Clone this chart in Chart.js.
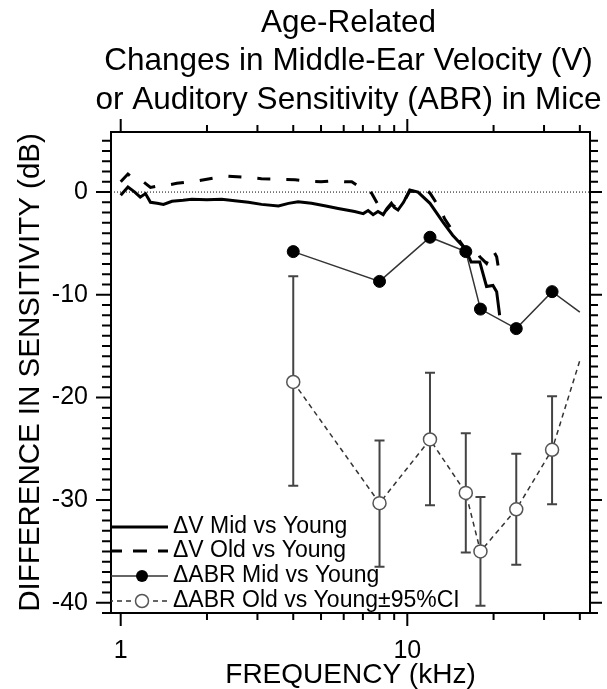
<!DOCTYPE html>
<html>
<head>
<meta charset="utf-8">
<script src="https://cdn.jsdelivr.net/npm/chart.js@4.4.1/dist/chart.umd.min.js"></script>
<style>
body { margin: 0; background: #fff; }
#MyChart { display: block; }
</style>
</head>
<body>
<canvas id="MyChart" width="607" height="689"></canvas>
<script>
const titleLines = ["Age-Related", "Changes in Middle-Ear Velocity (V)", "or Auditory Sensitivity (ABR) in Mice"];
const xTitle = "FREQUENCY (kHz)";
const yTitle = "DIFFERENCE IN SENSITIVITY (dB)";

// middle-ear velocity difference curves (kHz, dB)
const vMidFreq = [1.0, 1.06, 1.12, 1.17, 1.22, 1.27, 1.34, 1.41, 1.51, 1.65, 1.77, 2.0, 2.25, 2.5, 2.79, 3.1, 3.55, 3.85, 4.16, 4.63, 5.2, 5.74, 6.55, 7.02, 7.3, 7.6, 7.9, 8.24, 8.5, 8.8, 9.0, 9.28, 9.7, 10.2, 10.9, 12.0, 13.3, 14.4, 15.9, 16.7, 17.9, 18.9, 19.9, 20.5, 21.0];
const vMidDb = [-0.3, 0.5, 0.0, -0.5, -0.15, -1.0, -1.1, -1.2, -0.9, -0.8, -0.7, -0.75, -0.7, -0.85, -1.0, -1.2, -1.35, -1.1, -0.95, -1.1, -1.35, -1.6, -1.9, -2.1, -1.8, -2.2, -1.9, -2.2, -1.6, -1.1, -1.5, -1.75, -1.0, 0.2, 0.0, -1.1, -2.9, -4.2, -5.5, -6.8, -6.8, -9.2, -9.1, -9.7, -12.0];
const vOldFreq = [1.0, 1.06, 1.11, 1.2, 1.27, 1.35, 1.47, 1.57, 1.87, 2.1, 2.37, 2.7, 3.1, 3.5, 4.06, 4.5, 5.0, 5.6, 6.1, 6.4, 6.65, 7.2, 7.5, 7.8, 8.24, 8.8, 9.28, 9.7, 10.2, 10.9, 11.5, 12.0, 13.0, 13.5, 14.4, 15.9, 17.4, 17.9, 18.9, 19.9, 20.5, 21.0];
const vOldDb = [1.0, 1.75, 1.3, 1.0, 0.45, 0.6, 0.7, 0.85, 1.1, 1.35, 1.55, 1.45, 1.3, 1.25, 1.2, 1.05, 1.0, 1.1, 1.0, 1.0, 0.7, 0.3, -0.1, -0.95, -2.1, -1.2, -1.6, -1.0, 0.1, 0.0, 0.35, -0.1, -1.6, -2.6, -3.8, -5.5, -5.5, -6.3, -6.95, -5.65, -6.3, -8.1];

// ABR threshold differences (kHz, dB) with 95% CI for old vs young
const abrFreq = [4, 8, 12, 16, 18, 24, 32, 40];
const abrMidDb = [-5.8, -8.7, -4.4, -5.8, -11.4, -13.3, -9.7, -11.7];
const abrOldDb = [-18.5, -30.3, -24.1, -29.3, -35.0, -30.9, -25.1, -16.4];
const abrOldHi = [-8.2, -24.2, -17.6, -23.5, -29.7, -25.5, -19.9, null];
const abrOldLo = [-28.6, -36.5, -30.5, -35.1, -40.3, -36.3, -30.4, null];

const legendLabels = ["ΔV Mid vs Young", "ΔV Old vs Young", "ΔABR Mid vs Young", "ΔABR Old vs Young±95%CI"];
const xTickLabels = [1, 10];
const xMinorTicks = [2, 3, 4, 5, 6, 7, 8, 9, 20, 30, 40];
const yTickLabels = [0, -10, -20, -30, -40];
const xRange = [0.925, 43.4];
const yRange = [-41.0, 5.85];

const FONT = "'Liberation Sans', Arial, Helvetica, sans-serif";
const pts = (xs, ys) => xs.map((v, i) => ({x: v, y: ys[i]}));

// title centred over the plot, allowed to run past its edges
const plotTitle = {
    id: "plotTitle",
    afterDraw(chart) {
        const {ctx, chartArea: a} = chart;
        ctx.save();
        ctx.fillStyle = "#000";
        ctx.font = "31.5px " + FONT;
        ctx.textAlign = "center";
        ctx.textBaseline = "middle";
        titleLines.forEach((t, i) => ctx.fillText(t, (a.left + a.right) / 2 - 2, 23 + i * 38.5));
        ctx.restore();
    }
};

const errorBars = {
    id: "errorBars",
    beforeDatasetsDraw(chart) {
        const {ctx, scales: {x, y}} = chart;
        ctx.save();
        ctx.strokeStyle = "#444";
        ctx.lineWidth = 2;
        ctx.beginPath();
        abrFreq.forEach((f, i) => {
            if (abrOldHi[i] === null) return;
            const px = x.getPixelForValue(f);
            const top = y.getPixelForValue(abrOldHi[i]);
            const bot = y.getPixelForValue(abrOldLo[i]);
            ctx.moveTo(px, top); ctx.lineTo(px, bot);
            ctx.moveTo(px - 5, top); ctx.lineTo(px + 5, top);
            ctx.moveTo(px - 5, bot); ctx.lineTo(px + 5, bot);
        });
        ctx.stroke();
        ctx.restore();
    }
};

const frameTicks = {
    id: "frameTicks",
    afterDatasetsDraw(chart) {
        const {ctx, chartArea: a, scales: {x, y}} = chart;
        ctx.save();
        ctx.strokeStyle = "#000";
        ctx.lineWidth = 2;
        ctx.strokeRect(a.left, a.top, a.right - a.left, a.bottom - a.top);
        ctx.beginPath();
        xTickLabels.concat(xMinorTicks).forEach(v => {
            const px = x.getPixelForValue(v);
            const len = xTickLabels.includes(v) ? 13 : 7;
            ctx.moveTo(px, a.bottom); ctx.lineTo(px, a.bottom + len);
            ctx.moveTo(px, a.top); ctx.lineTo(px, a.top - len);
        });
        for (let v = Math.ceil(y.min); v <= y.max; v++) {
            const py = y.getPixelForValue(v);
            const major = v % 10 === 0;
            ctx.moveTo(a.left - (major ? 15 : 9), py); ctx.lineTo(a.left, py);
            ctx.moveTo(a.right, py); ctx.lineTo(a.right + (major ? 12 : 8), py);
        }
        ctx.stroke();
        ctx.restore();
    }
};

const sideLegend = {
    id: "sideLegend",
    afterDraw(chart) {
        const {ctx, chartArea: a} = chart;
        const x0 = a.left, x1 = 168, mx = 142, tx = 173;
        const rows = [527, 551, 576, 601];
        ctx.save();
        ctx.strokeStyle = "#000";
        // solid
        ctx.lineWidth = 3;
        ctx.beginPath(); ctx.moveTo(x0, rows[0]); ctx.lineTo(x1, rows[0]); ctx.stroke();
        // long dash
        ctx.setLineDash([14, 11]);
        ctx.lineDashOffset = 3;
        ctx.beginPath(); ctx.moveTo(x0, rows[1]); ctx.lineTo(x1, rows[1]); ctx.stroke();
        // abr mid
        ctx.setLineDash([]);
        ctx.lineWidth = 1.5;
        ctx.strokeStyle = "#333";
        ctx.beginPath(); ctx.moveTo(x0, rows[2]); ctx.lineTo(x1, rows[2]); ctx.stroke();
        ctx.fillStyle = "#000";
        ctx.beginPath(); ctx.arc(mx, rows[2], 6, 0, Math.PI * 2); ctx.fill();
        // abr old
        ctx.setLineDash([5, 4]);
        ctx.beginPath(); ctx.moveTo(x0, rows[3]); ctx.lineTo(x1, rows[3]); ctx.stroke();
        ctx.setLineDash([]);
        ctx.fillStyle = "#fff";
        ctx.strokeStyle = "#555";
        ctx.beginPath(); ctx.arc(mx, rows[3], 6.5, 0, Math.PI * 2); ctx.fill(); ctx.stroke();
        // text
        ctx.fillStyle = "#000";
        ctx.font = "23px " + FONT;
        ctx.textBaseline = "middle";
        ctx.textAlign = "left";
        legendLabels.forEach((t, i) => ctx.fillText(t, tx, rows[i]));
        ctx.restore();
    }
};

const ctx = document.getElementById("MyChart").getContext("2d");

new Chart(ctx, {
    type: "scatter",
    data: {
        datasets: [
            {
                label: legendLabels[2],
                data: pts(abrFreq, abrMidDb),
                showLine: true,
                borderColor: "#333",
                borderWidth: 1.5,
                pointRadius: abrFreq.map(f => (f < 40 ? 6 : 0)),
                pointBackgroundColor: "#000",
                pointBorderColor: "#000",
                pointBorderWidth: 1
            },
            {
                label: legendLabels[3],
                data: pts(abrFreq, abrOldDb),
                showLine: true,
                borderColor: "#333",
                borderWidth: 1.5,
                borderDash: [5, 4],
                pointRadius: abrFreq.map(f => (f < 40 ? 6.5 : 0)),
                pointBackgroundColor: "#fff",
                pointBorderColor: "#555",
                pointBorderWidth: 1.5
            },
            {
                label: legendLabels[0],
                data: pts(vMidFreq, vMidDb),
                showLine: true,
                borderColor: "#000",
                borderWidth: 3,
                pointRadius: 0
            },
            {
                label: legendLabels[1],
                data: pts(vOldFreq, vOldDb),
                showLine: true,
                borderColor: "#000",
                borderWidth: 3,
                borderDash: [13, 16],
                pointRadius: 0
            },
            {
                label: "zero",
                data: pts(xRange, [0, 0]),
                showLine: true,
                borderColor: "#000",
                borderWidth: 1,
                borderDash: [1, 2],
                pointRadius: 0
            }
        ]
    },
    options: {
        responsive: false,
        animation: false,
        devicePixelRatio: 1,
        layout: { padding: { top: 132, right: 17, bottom: 0, left: 0 } },
        plugins: {
            legend: { display: false },
            tooltip: { enabled: false },
            title: { display: false }
        },
        scales: {
            x: {
                type: "logarithmic",
                min: xRange[0],
                max: xRange[1],
                afterBuildTicks: s => { s.ticks = xTickLabels.map(v => ({value: v})); },
                afterFit: s => { s.height = 76; },
                grid: { display: false, drawTicks: false },
                border: { display: false },
                ticks: {
                    color: "#000",
                    padding: 23,
                    maxRotation: 0,
                    font: { family: FONT, size: 25 },
                    callback: v => String(v)
                },
                title: {
                    display: true,
                    text: xTitle,
                    color: "#000",
                    font: { family: FONT, size: 28, lineHeight: 1 },
                    padding: { top: 0, bottom: 0 }
                }
            },
            y: {
                type: "linear",
                min: yRange[0],
                max: yRange[1],
                afterBuildTicks: s => { s.ticks = yTickLabels.map(v => ({value: v})); },
                afterFit: s => { s.width = 111; },
                grid: { display: false, drawTicks: false },
                border: { display: false },
                ticks: {
                    color: "#000",
                    padding: 23,
                    font: { family: FONT, size: 25 },
                    callback: v => String(v)
                },
                title: {
                    display: true,
                    text: yTitle,
                    color: "#000",
                    font: { family: FONT, size: 29.5, lineHeight: 1.2 },
                    padding: { top: 13, bottom: 0 }
                }
            }
        }
    },
    plugins: [errorBars, frameTicks, sideLegend, plotTitle]
});
</script>
</body>
</html>
